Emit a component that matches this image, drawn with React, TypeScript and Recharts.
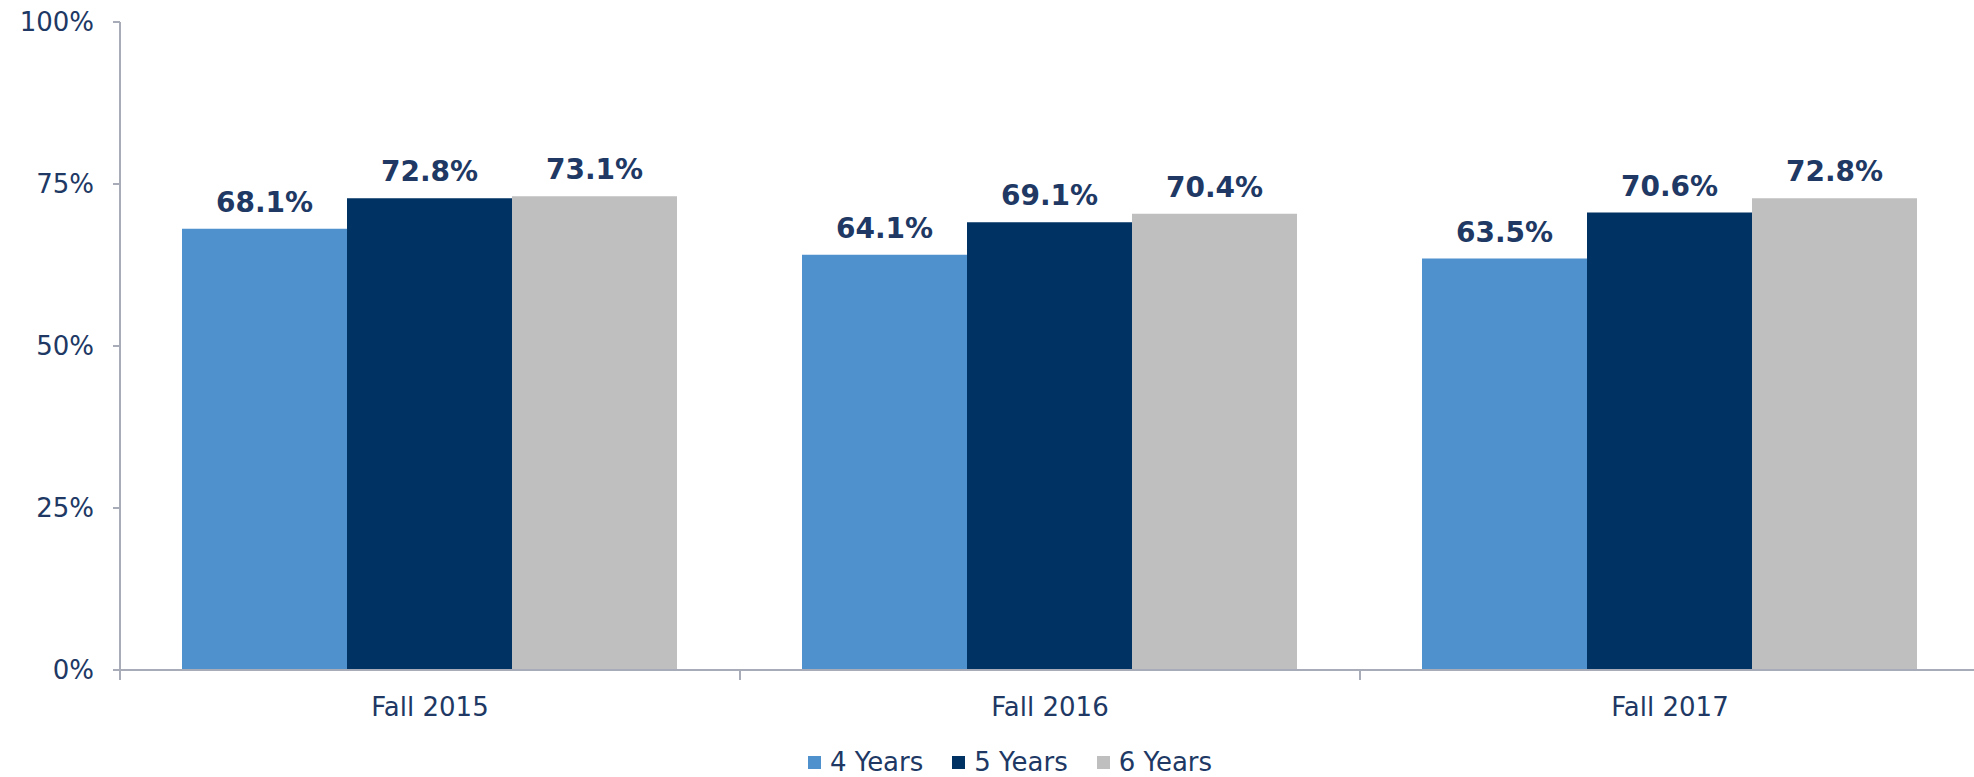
import React from "react";
import { BarChart, Bar, XAxis, YAxis, Legend, LabelList } from "recharts";

const categories = ["Fall 2015", "Fall 2016", "Fall 2017"];
const fourYears = [68.1, 64.1, 63.5];
const fiveYears = [72.8, 69.1, 70.6];
const sixYears = [73.1, 70.4, 72.8];
const yTicks = [0, 25, 50, 75, 100];

const SERIES = [
  { key: "y4", name: "4 Years", color: "#4F91CD" },
  { key: "y5", name: "5 Years", color: "#003263" },
  { key: "y6", name: "6 Years", color: "#BFBFBF" },
];

const TEXT = "#203864";
const AXIS = "#A8ABB8";
const FONT = "'DejaVu Sans', Verdana, sans-serif";

const CHART_W = 1990;
const CHART_H = 777;
const MARGIN = { top: 22, right: 10, bottom: 0, left: 40 };
const Y_AXIS_W = 80;
const BAND = (CHART_W - MARGIN.left - MARGIN.right - Y_AXIS_W) / categories.length;

const data = categories.map((name, i) => ({
  name,
  y4: fourYears[i],
  y5: fiveYears[i],
  y6: sixYears[i],
}));

// category label plus the short dividers between groups
function XTick(props: any) {
  const { x, y, payload, index } = props;
  const half = payload?.offset ? payload.offset : BAND / 2;
  return (
    <g>
      {index === 0 && (
        <line x1={x - half} x2={x - half} y1={y} y2={y + 10} stroke={AXIS} strokeWidth={2} />
      )}
      <line x1={x + half} x2={x + half} y1={y} y2={y + 10} stroke={AXIS} strokeWidth={2} />
      <text x={x} y={y + 46} textAnchor="middle" fill={TEXT} fontSize={26} fontFamily={FONT}>
        {payload.value}
      </text>
    </g>
  );
}

function LegendBox() {
  return (
    <div
      style={{
        height: 30,
        display: "flex",
        alignItems: "center",
        justifyContent: "center",
        fontFamily: FONT,
        fontSize: 26,
        color: TEXT,
      }}
    >
      {SERIES.map((s, i) => (
        <div
          key={s.key}
          style={{ display: "flex", alignItems: "center", marginRight: i < SERIES.length - 1 ? 29 : 0 }}
        >
          <span style={{ width: 13, height: 13, background: s.color, marginRight: 9, display: "inline-block" }} />
          <span style={{ lineHeight: "30px" }}>{s.name}</span>
        </div>
      ))}
    </div>
  );
}

export default function App() {
  return (
    <div
      style={{
        position: "fixed",
        left: 0,
        top: 0,
        width: 1974,
        height: 777,
        overflow: "hidden",
        background: "#fff",
      }}
    >
      <BarChart
        width={CHART_W}
        height={CHART_H}
        data={data}
        margin={MARGIN}
        barCategoryGap="10%"
        barGap={0}
      >
        <XAxis
          dataKey="name"
          height={77}
          axisLine={{ stroke: AXIS, strokeWidth: 2 }}
          tickLine={false}
          tickSize={0}
          tickMargin={0}
          tick={<XTick />}
          interval={0}
        />
        <YAxis
          width={Y_AXIS_W}
          domain={[0, 100]}
          ticks={yTicks}
          interval={0}
          tickFormatter={(v: number) => `${v}%`}
          axisLine={{ stroke: AXIS, strokeWidth: 2 }}
          tickLine={{ stroke: AXIS, strokeWidth: 2 }}
          tickSize={7}
          tickMargin={19}
          tick={{ fill: TEXT, fontSize: 26, fontFamily: FONT }}
        />
        <Legend verticalAlign="bottom" content={<LegendBox />} />
        {SERIES.map((s) => (
          <Bar key={s.key} dataKey={s.key} name={s.name} fill={s.color} isAnimationActive={false}>
            <LabelList
              dataKey={s.key}
              position="top"
              offset={17}
              formatter={(v: any) => `${Number(v).toFixed(1)}%`}
              fill={TEXT}
              fontSize={28}
              fontWeight="bold"
              fontFamily={FONT}
            />
          </Bar>
        ))}
      </BarChart>
    </div>
  );
}
